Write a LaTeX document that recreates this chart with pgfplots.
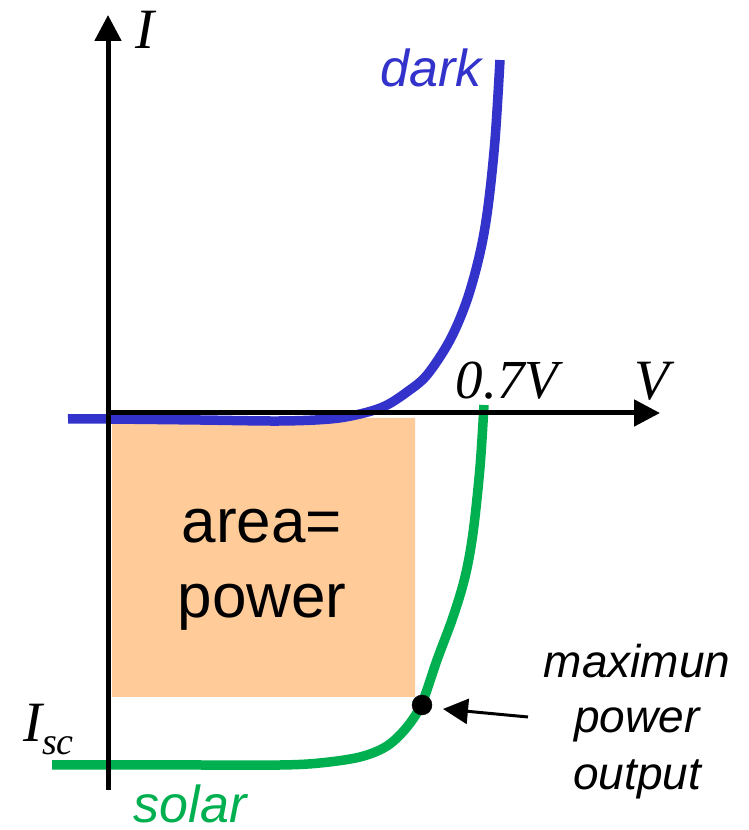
\documentclass[border=0pt]{standalone}
\usepackage{pgfplots}
\pgfplotsset{compat=1.18}
\usepackage{fontspec}
\setmainfont{Liberation Serif}
\setsansfont{Liberation Sans}
\usetikzlibrary{arrows.meta}
\definecolor{darkblue}{RGB}{51,51,204}
\definecolor{solargreen}{RGB}{0,176,80}
\definecolor{peach}{RGB}{255,204,153}
\begin{document}
\begin{tikzpicture}
\begin{axis}[
  width=748pt, height=830pt, scale only axis,
  xmin=-108, xmax=640, ymin=-417, ymax=413,
  axis lines=none, clip=false, ticks=none,
]
% full frame for the bounding box
\path (axis cs:-108,-417) rectangle (axis cs:640,413);
% power area
\addplot[fill=peach, draw=none] coordinates {(4,-5) (307,-5) (307,-284) (4,-284) (4,-5)};
% dark curve
\addplot[darkblue, line width=9.5pt, smooth, tension=0.55] coordinates {
(-40,-6) (0,-6) (92,-7) (172,-8) (222,-6) (252,-1) (277,7) (299,21) (319,38)
(342,73) (359,113) (372,160) (380,206) (387,273) (392,353)};
% solar curve
\addplot[solargreen, line width=9.5pt, smooth, tension=0.55] coordinates {
(-56,-352) (0,-352) (92,-352) (172,-352) (212,-350) (252,-344) (279,-333)
(299,-314) (314,-290) (329,-247) (345,-204) (357,-164) (365,-120) (372,-54) (376,8)};
% axes
\addplot[black, line width=5pt, -{Triangle[length=26pt,width=26pt]}] coordinates {(0,-377) (0,398)};
\addplot[black, line width=5pt, -{Triangle[length=26pt,width=26pt]}] coordinates {(-2.5,0) (552,0)};
% max power point
\addplot[only marks, mark=*, mark size=10pt, black] coordinates {(314,-292)};
\addplot[black, line width=3pt, -{Triangle[length=25pt,width=25pt]}] coordinates {(420,-304) (335,-296)};
% labels
\node[font=\fontsize{57}{60}\selectfont\itshape] at (axis cs:37,383) {I};
\node[font=\fontsize{57}{60}\selectfont\itshape] at (axis cs:544,32) {V};
\node[font=\fontsize{55}{60}\selectfont\itshape] at (axis cs:399,32) {0.7V};
\node[anchor=base, text=darkblue, font=\fontsize{52}{60}\selectfont\sffamily\itshape] at (axis cs:323,326) {dark};
\node[anchor=base, inner sep=0pt, text=solargreen, font=\fontsize{52}{60}\selectfont\sffamily\itshape] at (axis cs:82,-410) {solar};
\node[anchor=base, font=\fontsize{62}{70}\selectfont\sffamily] at (axis cs:154,-130) {area=};
\node[anchor=base, font=\fontsize{62}{70}\selectfont\sffamily] at (axis cs:154,-205) {power};
\node[anchor=base west, inner sep=0pt, font=\fontsize{57}{60}\selectfont\itshape] at (axis cs:-85,-329) {I\raisebox{-13pt}{\fontsize{38}{40}\selectfont sc}};
\node[anchor=base, font=\fontsize{46}{56}\selectfont\sffamily\itshape] at (axis cs:529,-265) {maximun};
\node[anchor=base, font=\fontsize{46}{56}\selectfont\sffamily\itshape] at (axis cs:529,-320) {power};
\node[anchor=base, font=\fontsize{46}{56}\selectfont\sffamily\itshape] at (axis cs:529,-377) {output};
\end{axis}
\end{tikzpicture}
\end{document}
